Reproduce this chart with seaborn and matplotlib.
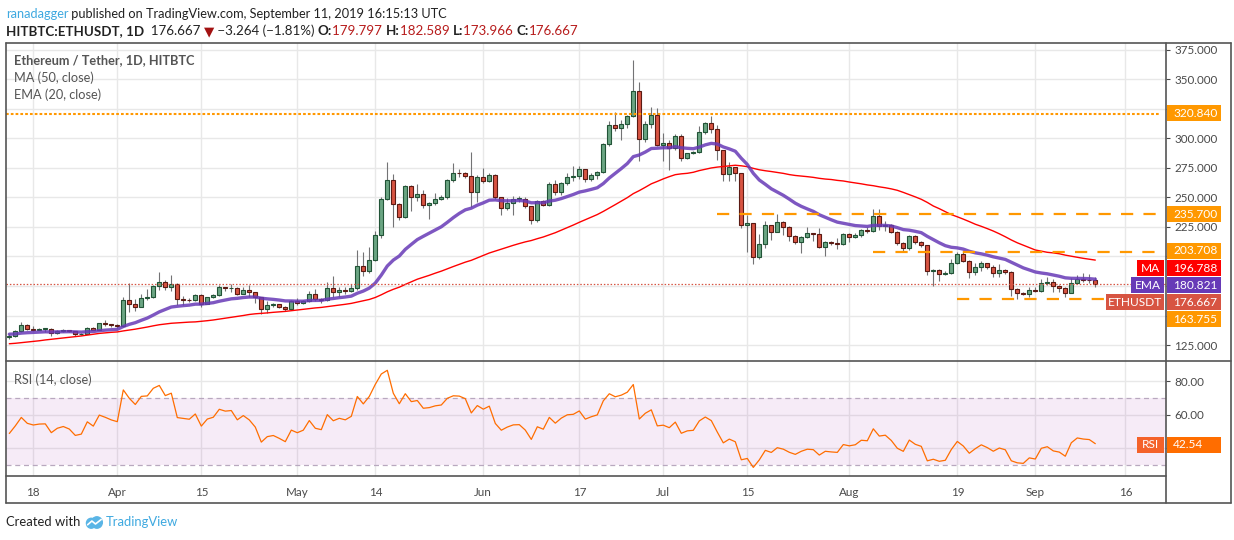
import numpy as np
import pandas as pd
import seaborn as sns
import matplotlib.pyplot as plt
from matplotlib.patches import Rectangle, Circle
from matplotlib.lines import Line2D

# daily candles, HITBTC ETH/USDT, 14 Mar 2019 -> 11 Sep 2019
closes = [
    132.5, 136.5, 141.6, 138.8, 138.0, 138.5, 138.6, 134.8, 136.8, 137.6,
    136.6, 134.0, 134.5, 139.6, 138.0, 143.3, 142.5, 141.6, 141.0, 163.5,
    160.0, 157.3, 165.2, 165.7, 174.7, 178.7, 174.2, 177.0, 164.0, 163.5,
    163.0, 167.2, 160.0, 165.5, 167.0, 174.0, 173.0, 173.5, 168.6, 171.8,
    169.5, 165.5, 155.4, 158.8, 159.5, 157.6, 155.4, 162.1, 160.5, 162.0,
    168.1, 163.8, 163.0, 173.4, 170.0, 171.8, 171.0, 173.4, 192.1, 188.1,
    197.2, 218.0, 248.6, 265.0, 244.5, 233.2, 259.7, 250.1, 253.0, 243.6,
    245.0, 248.7, 250.4, 264.8, 270.8, 270.5, 268.2, 254.4, 267.7, 264.0,
    269.4, 250.1, 241.1, 245.6, 248.7, 249.0, 242.8, 231.0, 247.0, 244.0,
    261.4, 254.4, 262.3, 267.7, 268.5, 273.8, 265.5, 268.9, 271.5, 295.3,
    311.5, 308.6, 312.3, 319.1, 340.4, 299.3, 312.0, 320.0, 294.4, 295.8,
    291.6, 302.1, 283.1, 287.4, 288.3, 305.2, 312.9, 307.8, 289.9, 269.5,
    275.5, 270.4, 226.4, 228.4, 199.2, 210.8, 226.7, 221.0, 228.9, 225.3,
    217.7, 212.6, 216.9, 219.7, 218.8, 207.9, 212.4, 211.2, 210.4, 218.8,
    216.9, 218.0, 222.5, 221.9, 234.3, 226.1, 227.0, 221.0, 211.2, 207.0,
    217.4, 212.1, 209.5, 187.4, 188.8, 185.3, 186.1, 194.9, 202.3, 196.6,
    186.7, 190.7, 194.1, 190.7, 186.2, 188.7, 186.7, 172.3, 169.2, 168.4,
    172.0, 170.6, 177.7, 178.8, 174.6, 173.4, 169.2, 177.7, 181.1, 180.2,
    179.8, 176.667,
]
highs = [
    134, 138, 144.4, 142.5, 141, 139.5, 139.5, 139.5, 137.5, 138.5,
    138, 137, 135.5, 140, 140, 144, 146, 143, 142.5, 165.7,
    177.8, 164, 168, 172.8, 175.5, 186.5, 180, 184, 177.5, 166.5,
    164.5, 168, 168.5, 166, 168, 176, 174.5, 177, 174, 174,
    176, 170, 165.5, 162.7, 160.5, 160, 158, 163, 164.5, 163,
    171, 172.5, 164.5, 178.5, 183.6, 174, 174, 177, 205.6, 204,
    208, 222, 250, 280.2, 269.5, 245, 261, 260.5, 261.4, 256,
    246.5, 253.5, 252, 266, 279.5, 274, 271.5, 288.6, 269, 275,
    271, 270, 250.5, 249.5, 251, 251, 250, 243, 248, 247.5,
    263, 264.5, 263.5, 271, 277, 277, 274, 270.5, 272.5, 296.5,
    314.9, 322.8, 315.3, 320, 366.4, 347.7, 314.4, 326.8, 325.5, 304.5,
    298.6, 304, 303.5, 288, 289, 310.9, 314.3, 318.8, 311.8, 290.5,
    280.4, 276, 271, 235.5, 228.7, 219.4, 230.3, 227, 236, 230.3,
    225.5, 218, 217.5, 225.3, 220, 224.5, 213, 213, 216, 220,
    219.5, 219.5, 223, 225.3, 240.4, 240.4, 230.5, 227.5, 222, 212,
    218, 218, 213, 210, 189.5, 189, 187.5, 198, 204, 203.4,
    197, 194.4, 196.6, 194.5, 192.4, 193.5, 189, 187.5, 173, 169.5,
    174, 174, 181, 183, 181.2, 175.5, 174, 182, 184.7, 185.9,
    184.9, 182.589,
]
lows = [
    130.5, 132, 136, 137.5, 137, 137.5, 136, 133, 134.5, 136,
    136, 133, 133.5, 134, 137.5, 137.5, 141, 140.5, 139.5, 140.5,
    153, 154, 157, 163, 165, 172, 172, 171, 158.7, 158.5,
    161.5, 162, 157, 159.5, 164.5, 166.5, 170.5, 170, 167.5, 168,
    166, 160.5, 151.4, 152, 157.5, 156.5, 153.5, 155, 159, 160,
    161.5, 162.5, 161, 162.5, 166, 166, 168.5, 170, 172, 183.6,
    186, 196, 216, 247.5, 224.7, 231.2, 233, 238.3, 247, 241.5,
    231.5, 244, 247.5, 249, 263.5, 267.5, 266.5, 241.7, 245.9, 262,
    263, 249, 235.5, 239, 235.5, 246.5, 241.5, 227.5, 229.5, 242.5,
    243, 252, 252.5, 261, 264, 266, 262.7, 264, 266, 271,
    293.5, 306.5, 298.4, 308.5, 318, 280.8, 296.8, 309, 293.8, 280.8,
    273.2, 290.5, 280.8, 282.5, 286.5, 287.5, 304, 304.3, 282, 263.8,
    263.8, 263.8, 224, 203.6, 194, 198, 207, 214, 220.5, 218.3,
    213.5, 210.7, 202.8, 216, 213.5, 207, 200, 209.5, 206, 209.5,
    212.5, 216, 216.5, 219.6, 221, 222.5, 222, 220, 210, 204,
    205.5, 211, 208, 184.6, 175.3, 179, 184, 185, 193.5, 195.5,
    181.9, 184, 188, 189.5, 182.5, 182.5, 185.5, 166.7, 163.8, 167.2,
    166, 169.5, 170, 175.5, 170, 169.5, 165.5, 169, 177, 178,
    177.7, 173.966,
]
first_open = 132.0
last_open = 179.797

# closes before the visible window (24 Jan - 13 Mar), only feed the MA/EMA/RSI
warmup_closes = [
    117, 116, 116, 113, 105, 104, 108, 107, 108, 110, 106, 106, 105, 104, 104,
    119, 119, 125, 120, 122, 121, 120, 121, 123,
    133, 145, 144, 148, 145, 148, 158, 135, 140, 137, 136, 135,
    136, 133, 131, 126, 137, 137, 139, 135, 138, 136, 133, 134, 133,
]

tick_dates = ["2019-03-18", "2019-04-01", "2019-04-15", "2019-05-01", "2019-05-14",
              "2019-06-01", "2019-06-17", "2019-07-01", "2019-07-15", "2019-08-01",
              "2019-08-19", "2019-09-01", "2019-09-16"]
tick_labels = ["18", "Apr", "15", "May", "14", "Jun", "17", "Jul", "15", "Aug", "19", "Sep", "16"]

price_ticks = [125, 150, 175, 200, 225, 250, 275, 300, 325, 350, 375]
hidden_ticks = [150, 175, 200, 325]   # sit under the price tags

level_prices = [320.840, 235.700, 203.708, 163.755]
level_start_dates = ["2019-03-13", "2019-07-10", "2019-08-05", "2019-08-19"]
ma_value = 196.788
ema_value = 180.821
rsi_value = 42.54

# ---------------------------------------------------------------------------
opens = [first_open] + closes[:-1]
opens[-1] = last_open
dates = pd.date_range("2019-03-14", periods=len(closes), freq="D")
days = np.arange(len(closes))
tick_pos = (pd.to_datetime(tick_dates) - dates[0]).days.values
level_start = (pd.to_datetime(level_start_dates) - dates[0]).days.values

all_close = pd.Series(warmup_closes + closes, dtype=float)
n0 = len(warmup_closes)
ma50 = all_close.rolling(50).mean().iloc[n0:].values
ema20 = all_close.ewm(span=20, adjust=False).mean().iloc[n0:].values
delta = all_close.diff()
gain = delta.clip(lower=0).ewm(alpha=1 / 14, adjust=False).mean()
loss = (-delta.clip(upper=0)).ewm(alpha=1 / 14, adjust=False).mean()
rsi = (100 - 100 / (1 + gain / loss)).iloc[n0:].values

df = pd.DataFrame({"day": days, "ma": ma50, "ema": ema20, "rsi": rsi})

sns.set_theme(style="white")
plt.rcParams["font.family"] = ["Lato", "DejaVu Sans"]

W, H = 1234, 540
fig = plt.figure(figsize=(W / 100, H / 100), dpi=100)
fig.patch.set_facecolor("white")


def fx(x):
    return x / W


def fy(y):
    return 1 - y / H


AXC = "#4a4a4a"
FR = "#555555"
GRID = "#e8e8e8"
UP, UP_E = "#6ba583", "#225437"
DN, DN_E = "#d75442", "#5b1a13"
ORANGE = "#ff9800"

x_left = (6 - 9.3) / 6
x_right = (1166 - 9.3) / 6

ax = fig.add_axes([fx(6), fy(360), fx(1166) - fx(6), fy(43) - fy(360)])
rax = fig.add_axes([fx(6), fy(476), fx(1166) - fx(6), fy(360) - fy(476)])

# ---- main price panel
o = np.array(opens)
c = np.array(closes)
up = c >= o
ax.vlines(days, lows, highs, color="#737375", lw=0.8, zorder=2)
body_lo = np.minimum(o, c)
body_h = np.maximum(np.abs(c - o), 0.5)
ax.bar(days, body_h, bottom=body_lo, width=0.72,
       color=np.where(up, UP, DN), edgecolor=np.where(up, UP_E, DN_E),
       linewidth=0.8, zorder=3)

sns.lineplot(data=df, x="day", y="ma", ax=ax, color="#ff0000", lw=1.0, zorder=4)
sns.lineplot(data=df, x="day", y="ema", ax=ax, color="#673ab7", lw=2.4, alpha=0.85, zorder=4)

ax.axhline(closes[-1], color=DN, lw=0.9, ls=(0, (1.2, 1.5)), zorder=4)
ax.hlines(level_prices[0], x_left, 191.8, color=ORANGE, lw=1.5, linestyles=[(0, (1.3, 1.0))], zorder=5)
for p, s in zip(level_prices[1:], level_start[1:]):
    ax.hlines(p, s, 191.8, color=ORANGE, lw=1.6, linestyles=[(0, (5.5, 4.6))], zorder=5)

ax.set_xlim(x_left, x_right)
ax.set_ylim(112.3, 380.9)
ax.set_xticks(tick_pos)
ax.set_xticklabels([])
ax.set_yticks(price_ticks)
ax.set_yticklabels(["" if v in hidden_ticks else f"{v:.3f}" for v in price_ticks])
ax.yaxis.tick_right()
ax.tick_params(axis="y", length=3, width=0.8, color=AXC, pad=3, labelsize=8.4, labelcolor=AXC)
ax.tick_params(axis="x", length=0)
ax.grid(True, color=GRID, lw=1.0)
ax.set_axisbelow(True)
ax.set_xlabel("")
ax.set_ylabel("")
for s in ax.spines.values():
    s.set_visible(False)

ax.text(0.007, 0.947, "Ethereum / Tether, 1D, HITBTC", transform=ax.transAxes,
        fontsize=9.2, color="#555555", fontweight="bold", va="center")
ax.text(0.007, 0.89, "MA (50, close)", transform=ax.transAxes,
        fontsize=9.2, color="#555555", va="center")
ax.text(0.007, 0.837, "EMA (20, close)", transform=ax.transAxes,
        fontsize=9.2, color="#555555", va="center")

# ---- RSI panel
rax.axhspan(30, 70, color="#9c27b0", alpha=0.09, lw=0, zorder=1)
for lv in (70, 30):
    rax.axhline(lv, color="#b8a8bf", lw=0.9, ls=(0, (4, 3)), zorder=2)
sns.lineplot(data=df, x="day", y="rsi", ax=rax, color="#ff6d00", lw=0.9, zorder=3)
rax.set_xlim(x_left, x_right)
rax.set_ylim(23.6, 92.5)
rax.set_yticks([40, 60, 80])
rax.set_yticklabels(["", "60.00", "80.00"])
rax.yaxis.tick_right()
rax.tick_params(axis="y", length=3, width=0.8, color=AXC, pad=3, labelsize=8.4, labelcolor=AXC)
rax.set_xticks(tick_pos)
rax.set_xticklabels(tick_labels)
rax.tick_params(axis="x", length=3, width=0.8, color=AXC, pad=5, labelsize=8.4, labelcolor=AXC)
rax.grid(True, color=GRID, lw=1.0)
rax.set_axisbelow(True)
rax.set_xlabel("")
rax.set_ylabel("")
for s in rax.spines.values():
    s.set_visible(False)
rax.text(0.007, 0.83, "RSI (14, close)", transform=rax.transAxes,
         fontsize=9.2, color="#555555", va="center")


# ---- frame
def fline(x0, y0, x1, y1, lw=1.2):
    fig.add_artist(Line2D([fx(x0), fx(x1)], [fy(y0), fy(y1)], transform=fig.transFigure,
                          color=FR, lw=lw, zorder=10))


fline(6, 43, 1231, 43)
fline(6, 503, 1231, 503)
fline(6, 43, 6, 503)
fline(1231, 43, 1231, 503)
fline(1166, 43, 1166, 503)
fline(6, 361, 1231, 361)
fline(6, 476, 1166, 476)


# ---- right-hand price tags
def tag(x0, x1, yc, text, color, ha="left", h=16):
    fig.add_artist(Rectangle((fx(x0), fy(yc + h / 2)), fx(x1) - fx(x0), h / H,
                             transform=fig.transFigure, facecolor=color,
                             edgecolor="none", zorder=11))
    tx = x0 + 6 if ha == "left" else (x0 + x1) / 2
    fig.text(fx(tx), fy(yc), text, color="white", ha=ha, va="center",
             fontsize=8.6, zorder=12)


tag(1167, 1221, 113.3, f"{level_prices[0]:.3f}", ORANGE)
tag(1167, 1221, 214.3, f"{level_prices[1]:.3f}", ORANGE)
tag(1167, 1221, 251.0, f"{level_prices[2]:.3f}", ORANGE)
tag(1137, 1164, 268.3, "MA", "#ff0000", ha="center")
tag(1167, 1221, 268.3, f"{ma_value:.3f}", "#ff0000")
tag(1131, 1164, 285.3, "EMA", "#673ab7", ha="center")
tag(1167, 1221, 285.3, f"{ema_value:.3f}", "#673ab7")
tag(1106, 1164, 302.3, "ETHUSDT", DN, ha="center")
tag(1167, 1221, 302.3, f"{closes[-1]:.3f}", DN)
tag(1167, 1221, 319.2, f"{level_prices[3]:.3f}", ORANGE)
tag(1137, 1164, 445.0, "RSI", "#f4622a", ha="center")
tag(1167, 1221, 445.0, f"{rsi_value:.2f}", "#ff6d00")

# ---- header and footer text runs
renderer = fig.canvas.get_renderer()


def run(x, y, pieces, size=9.6):
    for txt, color, weight in pieces:
        t = fig.text(fx(x), fy(y), txt, color=color, fontweight=weight,
                     fontsize=size, va="center", ha="left")
        x += t.get_window_extent(renderer).width
    return x


run(6, 14, [("ranadagger", "#3fa9e0", "normal"),
            (" published on TradingView.com, September 11, 2019 16:15:13 UTC", "#222222", "normal")],
    size=9.2)
RED = "#b71c1c"
run(6, 31, [("HITBTC:ETHUSDT, 1D", "#222222", "bold"),
            ("  176.667 ", "#222222", "normal"),
            ("\u25bc", "#a31212", "normal"),
            (" \u22123.264 (\u22121.81%) ", "#222222", "normal"),
            ("O:", "#222222", "bold"), ("179.797 ", RED, "normal"),
            ("H:", "#222222", "bold"), ("182.589 ", RED, "normal"),
            ("L:", "#222222", "bold"), ("173.966 ", RED, "normal"),
            ("C:", "#222222", "bold"), ("176.667", RED, "normal")])

xe = run(6, 522, [("Created with ", "#222222", "normal")], size=9.4)
lax = fig.add_axes([fx(xe + 1), fy(530), 20 / W, 15 / H])
lax.set_xlim(0, 1.4)
lax.set_ylim(0, 1)
lax.axis("off")
lax.add_patch(Circle((0.45, 0.45), 0.33, color="#5ab5e6"))
lax.add_patch(Circle((0.85, 0.5), 0.38, color="#5ab5e6"))
lax.plot([0.2, 0.5, 0.75, 1.15], [0.35, 0.6, 0.4, 0.7], color="white", lw=1.2)
run(xe + 22, 522, [("TradingView", "#3fa9e0", "normal")], size=9.4)

fig.savefig("out.png", dpi=100)
